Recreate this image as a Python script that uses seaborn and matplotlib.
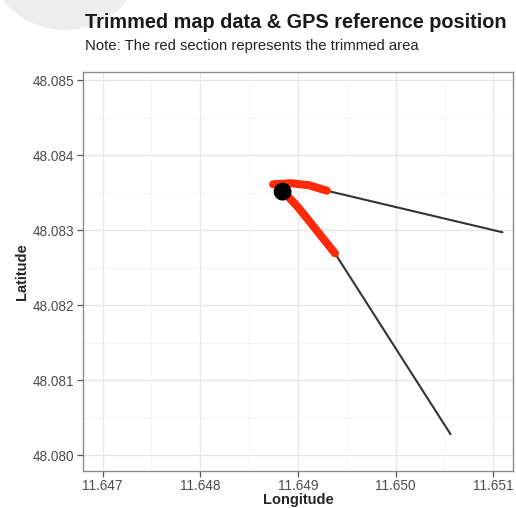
import matplotlib
matplotlib.use("Agg")
import matplotlib.pyplot as plt
import matplotlib.patches as mpatches
import seaborn as sns
import numpy as np
import pandas as pd

# map data (longitude / latitude)
upper_trim_lon = [11.648745, 11.648929, 11.649112, 11.649296]
upper_trim_lat = [48.083613, 48.083627, 48.083600, 48.083527]
upper_rest_lon = [11.649296, 11.651092]
upper_rest_lat = [48.083527, 48.082973]

lower_trim_lon = [11.648867, 11.649000, 11.649133, 11.649255, 11.649378]
lower_trim_lat = [48.083493, 48.083307, 48.083093, 48.082893, 48.082693]
lower_rest_lon = [11.649378, 11.650561]
lower_rest_lat = [48.082693, 48.080280]

gps_lon = [11.648842]
gps_lat = [48.083515]

x_ticks = [11.647, 11.648, 11.649, 11.650, 11.651]
y_ticks = [48.080, 48.081, 48.082, 48.083, 48.084, 48.085]

sns.set_theme(style="white")
plt.rcParams['font.family'] = ['Liberation Sans', 'DejaVu Sans']

fig = plt.figure(figsize=(5.16, 5.08), dpi=100)
ax = fig.add_axes([83 / 516, 1 - 471 / 508, 430 / 516, 399 / 508])

# light grey blob in the top left corner of the screenshot
fig.patches.append(mpatches.Ellipse((65 / 516, 1 + 50 / 508), 160 / 516, 160 / 508,
                                    transform=fig.transFigure,
                                    facecolor='#ededed', edgecolor='none', zorder=0))

segments = [
    (upper_rest_lon, upper_rest_lat, 'rest'),
    (lower_rest_lon, lower_rest_lat, 'rest'),
    (upper_trim_lon, upper_trim_lat, 'trim'),
    (lower_trim_lon, lower_trim_lat, 'trim'),
]
for lon, lat, kind in segments:
    df = pd.DataFrame({'lon': lon, 'lat': lat})
    if kind == 'rest':
        sns.lineplot(data=df, x='lon', y='lat', sort=False, estimator=None, ax=ax,
                     color='#333333', linewidth=1.5, zorder=3)
    else:
        sns.lineplot(data=df, x='lon', y='lat', sort=False, estimator=None, ax=ax,
                     color='#ff2a0a', linewidth=5.8, zorder=4, solid_capstyle='round')

sns.scatterplot(x=gps_lon, y=gps_lat, ax=ax, color='black', s=165, edgecolor='none', zorder=5)

ax.set_xticks(x_ticks)
ax.set_xticklabels([f"{v:.3f}" for v in x_ticks])
ax.set_yticks(y_ticks)
ax.set_yticklabels([f"{v:.3f}" for v in y_ticks])
ax.set_xticks(np.arange(11.6465, 11.6515, 0.001), minor=True)
ax.set_yticks(np.arange(48.0795, 48.0855, 0.001), minor=True)
ax.set_xlim(11.6468, 11.6512)
ax.set_ylim(48.07979, 48.08511)

ax.grid(True, which='major', color='#e6e6e6', linewidth=0.9)
ax.grid(True, which='minor', color='#f2f2f2', linewidth=0.6)
ax.set_axisbelow(True)
for s in ax.spines.values():
    s.set_color('#8c8c8c')
    s.set_linewidth(1.0)
ax.tick_params(which='major', direction='out', length=4, width=0.9, color='#555555',
               labelsize=9.8, labelcolor='#4d4d4d', pad=2, bottom=True, left=True)
ax.tick_params(which='minor', length=0)

ax.set_xlabel("Longitude", fontsize=10.5, fontweight='bold')
ax.xaxis.set_label_coords(0.5, -0.055)
ax.set_ylabel("Latitude", fontsize=10.5, fontweight='bold', labelpad=3)

fig.text(85 / 516, 1 - 22 / 508, "Trimmed map data & GPS reference position",
         fontsize=14.3, fontweight='bold', color='#1a1a1a', va='center', ha='left')
fig.text(85 / 516, 1 - 46 / 508, "Note: The red section represents the trimmed area",
         fontsize=10.7, color='#222222', va='center', ha='left')

fig.savefig("out.png", dpi=100)
